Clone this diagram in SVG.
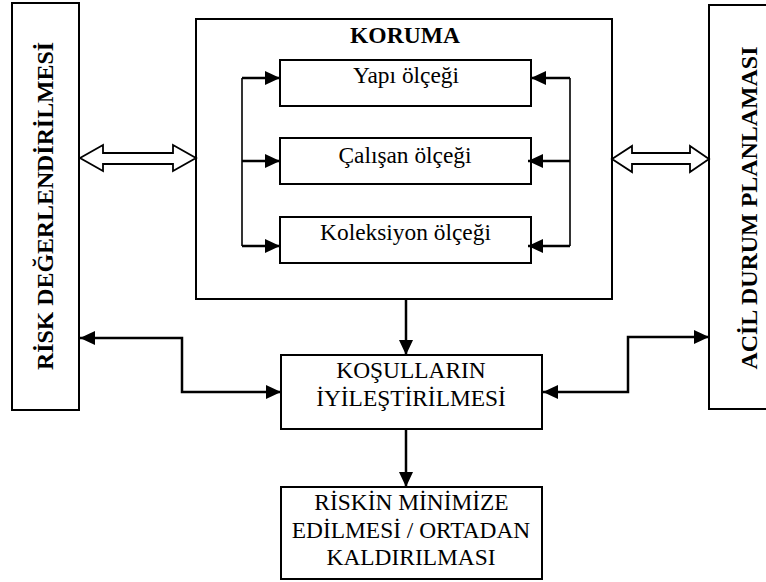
<svg xmlns="http://www.w3.org/2000/svg" width="766" height="582" viewBox="0 0 766 582">
<style>
.box{fill:#fff;stroke:#000;stroke-width:2}
.t{font-family:"Liberation Serif","Times New Roman",serif;font-size:23.4px;fill:#000;text-anchor:middle}
.b{font-weight:bold}
.c{fill:none;stroke:#000;stroke-width:2.5}
.thin{fill:none;stroke:#000;stroke-width:1.6}
.dbl{fill:#fff;stroke:#000;stroke-width:1.8;stroke-linejoin:miter}
</style>
<defs>
<marker id="ah" markerUnits="userSpaceOnUse" markerWidth="16" markerHeight="16" refX="15" refY="7" orient="auto-start-reverse"><path d="M0,0 L15,7 L0,14 z" fill="#000"/></marker>
</defs>
<rect width="766" height="582" fill="#fff"/>
<g id="risk-degerlendirme">
<rect class="box" x="12" y="3" width="67" height="407"/>
<text class="t b" transform="translate(53,206) rotate(-90)" textLength="328" lengthAdjust="spacingAndGlyphs">RİSK DEĞERLENDİRİLMESİ</text>
</g>
<g id="acil-durum">
<rect class="box" x="709" y="5" width="70" height="404"/>
<text class="t b" transform="translate(757,208) rotate(-90)" textLength="323" lengthAdjust="spacingAndGlyphs">ACİL DURUM PLANLAMASI</text>
</g>
<g id="koruma">
<rect class="box" x="196" y="19" width="416" height="280"/>
<text class="t b" x="405" y="43" textLength="110" lengthAdjust="spacingAndGlyphs">KORUMA</text>
</g>
<g id="yapi">
<rect class="box" x="280" y="60" width="251" height="46"/>
<text class="t" x="406" y="83">Yapı ölçeği</text>
</g>
<g id="calisan">
<rect class="box" x="280" y="138" width="251" height="46"/>
<text class="t" x="405" y="163">Çalışan ölçeği</text>
</g>
<g id="koleksiyon">
<rect class="box" x="280" y="217" width="251" height="46"/>
<text class="t" x="405.5" y="240">Koleksiyon ölçeği</text>
</g>
<g id="kosullar">
<rect class="box" x="281" y="355" width="261" height="74"/>
<text class="t" x="411" y="378">KOŞULLARIN</text>
<text class="t" x="411" y="406">İYİLEŞTİRİLMESİ</text>
</g>
<g id="riskin">
<rect class="box" x="281" y="487" width="261" height="92"/>
<text class="t" x="411.5" y="510">RİSKİN MİNİMİZE</text>
<text class="t" x="411" y="538">EDİLMESİ / ORTADAN</text>
<text class="t" x="411" y="565">KALDIRILMASI</text>
</g>
<g id="connectors">
<path class="thin" d="M242 78 V246"/>
<path class="c" d="M242 78 H280" marker-end="url(#ah)"/>
<path class="c" d="M242 161 H280" marker-end="url(#ah)"/>
<path class="c" d="M242 246 H280" marker-end="url(#ah)"/>
<path class="thin" d="M570 78 V246"/>
<path class="c" d="M570 78 H531" marker-end="url(#ah)"/>
<path class="c" d="M570 161 H528" marker-end="url(#ah)"/>
<path class="c" d="M570 246 H528" marker-end="url(#ah)"/>
<polygon class="dbl" points="80,158 103,145 103,153 173,153 173,145 196,158 173,171 173,164 103,164 103,171"/>
<polygon class="dbl" points="612,159 632,146 632,153 690,153 690,146 709,159 690,172 690,164 632,164 632,172"/>
<path class="c" d="M406 299 V355" marker-end="url(#ah)"/>
<path class="c" d="M406 429 V487" marker-end="url(#ah)"/>
<path class="c" d="M80 338 H182 V392 H281" marker-start="url(#ah)" marker-end="url(#ah)"/>
<path class="c" d="M709 337 H628 V392 H543" marker-start="url(#ah)" marker-end="url(#ah)"/>
</g>
</svg>
